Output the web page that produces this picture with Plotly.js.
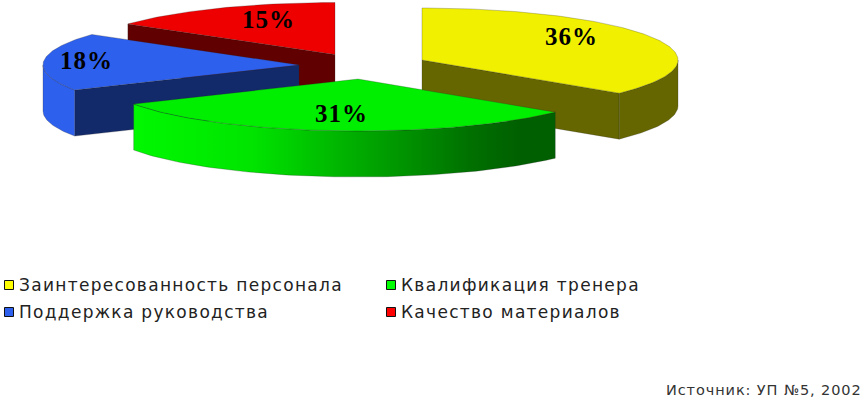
<!DOCTYPE html>
<html>
<head>
<meta charset="utf-8">
<script src="https://cdn.plot.ly/plotly-3.0.1.min.js"></script>
<style>html,body{margin:0;padding:0;background:#fff}#chart{width:865px;height:401px}</style>
</head>
<body>
<div id="chart"></div>
<script>
// Data
const categories = ['Заинтересованность персонала', 'Квалификация тренера', 'Поддержка руководства', 'Качество материалов'];
const shares = [36, 31, 18, 15];
const sourceNote = 'Источник: УП №5, 2002';

// Styling
const topColors = ['#f0f000', '#00ee00', '#2e60ee', '#ee0000'];
const legendColors = ['#ffff00', '#00ff00', '#2e60ee', '#ff0000'];
const innerWall = ['#666600', '#006000', '#12296a', '#600000'];
const outerWall = ['#666600', null, '#2e60ee', '#600000'];

// Projection of the exploded pie on the canvas (pixel-based axes)
const apexX = [422, 358, 299, 335];
const apexY = [60, 79, 65, 54.5];
const labelX = [571, 341, 86, 268];
const labelY = [36.5, 113.5, 60.5, 19.5];
const legendX = [9, 391, 9, 391];
const legendY = [285, 285, 312, 312];
const RX = 256, RY = 52, DEPTH = 46;
const EDGE = {color: 'rgba(40,40,40,0.5)', width: 0.5};

const rad = d => d * Math.PI / 180;
const px = (i, a) => apexX[i] + RX * Math.sin(rad(a));
const py = (i, a) => apexY[i] - RY * Math.cos(rad(a));
function arc(i, a0, a1, dy) {
  const xs = [], ys = [];
  const n = Math.max(2, Math.ceil(Math.abs(a1 - a0)));
  for (let k = 0; k <= n; k++) {
    const a = a0 + (a1 - a0) * k / n;
    xs.push(px(i, a)); ys.push(py(i, a) + dy);
  }
  return [xs, ys];
}
function poly(xs, ys, color, extra) {
  return Object.assign({
    type: 'scatter', mode: 'lines', x: xs, y: ys, fill: 'toself', fillcolor: color,
    line: EDGE, hoverinfo: 'skip', showlegend: false
  }, extra || {});
}

// Start and end angle of each slice, from the shares
const starts = [], ends = [];
let run = 0;
shares.forEach(s => { starts.push(run); run += s * 3.6; ends.push(run); });

const traces = [];
function addSlice(i) {
  const a0 = starts[i], a1 = ends[i];
  // inner cut wall from outer corner to apex, if facing the viewer
  if (i !== 1) {
    const cornerAngle = i === 0 ? a1 : a0;
    const cx = px(i, cornerAngle), cy = py(i, cornerAngle);
    traces.push(poly([cx, apexX[i], apexX[i], cx, cx],
                     [cy, apexY[i], apexY[i] + DEPTH, cy + DEPTH, cy], innerWall[i]));
  }
  // front rim
  const f0 = Math.max(a0, 90), f1 = Math.min(a1, 270);
  if (f1 > f0) {
    const up = arc(i, f0, f1, 0), down = arc(i, f1, f0, DEPTH);
    const xs = up[0].concat(down[0], [up[0][0]]), ys = up[1].concat(down[1], [up[1][0]]);
    if (i === 1) {
      traces.push(poly(xs, ys, '#00ff00', {fillgradient: {
        type: 'horizontal',
        colorscale: [[0, '#00f800'], [0.28, '#00e400'], [0.51, '#00b000'], [0.8, '#007000'], [0.92, '#005f00'], [1, '#006000']]
      }}));
    } else {
      traces.push(poly(xs, ys, outerWall[i]));
    }
  }
  // top face
  const t = arc(i, a0, a1, 0);
  traces.push(poly([apexX[i]].concat(t[0], [apexX[i]]), [apexY[i]].concat(t[1], [apexY[i]]), topColors[i]));
}
[3, 2, 0, 1].forEach(addSlice);

// Legend swatches and labels
traces.push({
  type: 'scatter', mode: 'markers', x: legendX, y: legendY, hoverinfo: 'skip', showlegend: false,
  marker: {symbol: 'square', size: 9, color: legendColors, line: {color: '#111', width: 1}}
});

const annotations = [];
shares.forEach((s, i) => annotations.push({
  x: labelX[i], y: labelY[i], xref: 'x', yref: 'y', showarrow: false,
  text: '<span style="letter-spacing:1px"><b>' + s + '%</b></span>',
  font: {family: '"Liberation Serif", serif', size: 25, color: '#000'}
}));
categories.forEach((c, i) => annotations.push({
  x: legendX[i] + 8, y: legendY[i], xref: 'x', yref: 'y', showarrow: false, xanchor: 'left',
  text: '<span style="letter-spacing:1.3px">' + c + '</span>',
  font: {family: '"DejaVu Sans", sans-serif', size: 17, color: '#222'}
}));
annotations.push({
  x: 864, y: 390, xref: 'x', yref: 'y', showarrow: false, xanchor: 'right',
  text: '<span style="letter-spacing:0.9px">' + sourceNote + '</span>',
  font: {family: '"DejaVu Sans", sans-serif', size: 14.5, color: '#333'}
});

Plotly.newPlot('chart', traces, {
  width: 865, height: 401,
  margin: {l: 0, r: 0, t: 0, b: 0},
  paper_bgcolor: '#fff', plot_bgcolor: '#fff',
  showlegend: false,
  xaxis: {range: [0, 865], visible: false, fixedrange: true},
  yaxis: {range: [401, 0], visible: false, fixedrange: true},
  annotations: annotations
}, {displayModeBar: false, staticPlot: true});
</script>
</body>
</html>
